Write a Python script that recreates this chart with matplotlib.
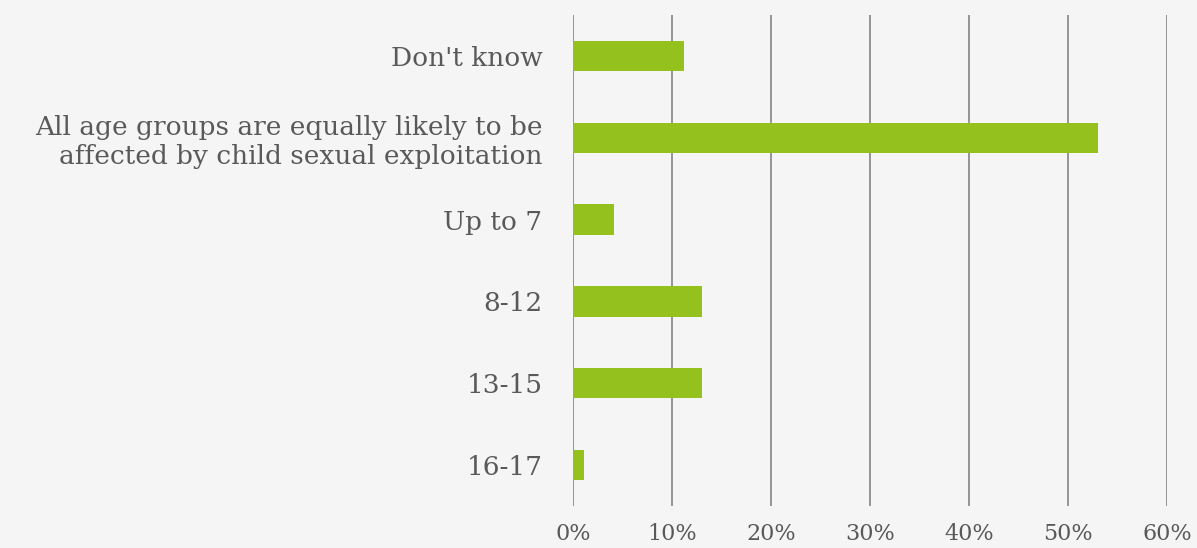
import matplotlib.pyplot as plt
from matplotlib.ticker import PercentFormatter

categories = ["Don't know",
              "All age groups are equally likely to be\naffected by child sexual exploitation",
              "Up to 7", "8-12", "13-15", "16-17"]
values = [11.2, 53.0, 4.1, 13.0, 13.0, 1.1]
xticks = [0, 10, 20, 30, 40, 50, 60]

bg = '#f5f5f5'
text_color = '#595959'

plt.rcParams['font.family'] = ['DejaVu Serif']

fig = plt.figure(figsize=(11.97, 5.48), dpi=100, facecolor=bg)
ax = fig.add_axes([0.4787, 0.0766, 0.4963, 0.896])
ax.set_facecolor(bg)

pos = list(range(len(categories)))
ax.barh(pos, values, height=0.37, color='#95c11f', zorder=3)
ax.set_ylim(len(categories) - 0.5, -0.5)
ax.set_xlim(0, 60)
ax.set_xticks(xticks)
ax.xaxis.set_major_formatter(PercentFormatter(decimals=0))
ax.set_yticks(pos)
ax.set_yticklabels(categories, ha='right', multialignment='right')

ax.grid(axis='x', color='#8c8c8c', linewidth=1.3, zorder=0)
for s in ax.spines.values():
    s.set_visible(False)
ax.tick_params(axis='both', length=0, colors=text_color)
ax.tick_params(axis='x', pad=12, labelsize=16)
ax.tick_params(axis='y', pad=22, labelsize=19)

fig.savefig('out.png', dpi=100, facecolor=bg)
